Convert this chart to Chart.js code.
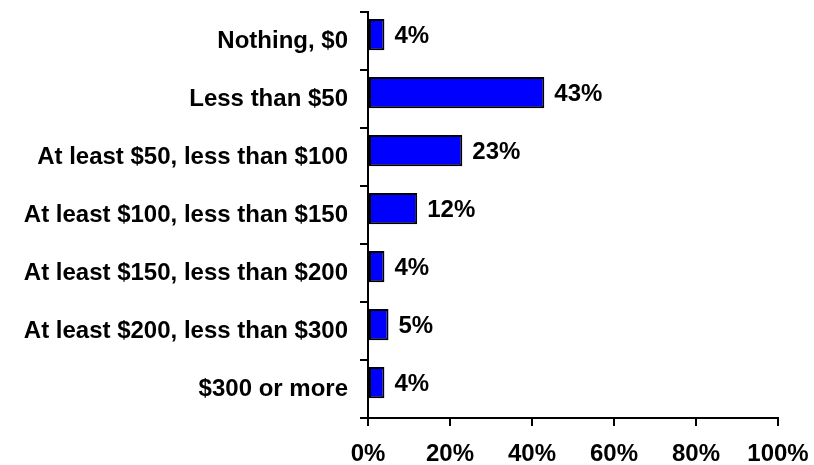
<!DOCTYPE html>
<html>
<head>
<meta charset="utf-8">
<script src="https://cdn.jsdelivr.net/npm/chart.js@4/dist/chart.umd.min.js"></script>
<style>
html,body{margin:0;padding:0;background:#fff;}
#wrap{width:814px;height:465px;position:relative;}
</style>
</head>
<body>
<div id="wrap"><canvas id="c" width="814" height="465"></canvas></div>
<script>
const categories = [
  "Nothing, $0",
  "Less than $50",
  "At least $50, less than $100",
  "At least $100, less than $150",
  "At least $150, less than $200",
  "At least $200, less than $300",
  "$300 or more"
];
const values = [4, 43, 23, 12, 4, 5, 4];
const xTicks = [0, 20, 40, 60, 80, 100];

const FONT = "Liberation Sans, Arial, Helvetica, sans-serif";
const FSIZE = 24;

// shift bars slightly upward within their category band (as in the original)
const barShift = {
  id: 'barShift',
  afterDatasetsUpdate(chart) {
    const meta = chart.getDatasetMeta(0);
    const y = chart.scales.y;
    const band = (y.bottom - y.top) / categories.length;
    meta.data.forEach(el => { el.y -= band * 0.11; });
  }
};

const valueLabels = {
  id: 'valueLabels',
  afterDatasetsDraw(chart) {
    const ctx = chart.ctx;
    const meta = chart.getDatasetMeta(0);
    ctx.save();
    ctx.font = "bold " + FSIZE + "px " + FONT;
    ctx.fillStyle = "#000";
    ctx.textAlign = "left";
    ctx.textBaseline = "middle";
    meta.data.forEach((bar, i) => {
      ctx.fillText(values[i] + "%", bar.x + 10, bar.y + 2);
    });
    ctx.restore();
  }
};

new Chart(document.getElementById('c'), {
  type: 'bar',
  data: {
    labels: categories,
    datasets: [{
      data: values,
      backgroundColor: '#0000FF',
      borderColor: '#000000',
      borderWidth: 2,
      borderSkipped: false,
      barPercentage: 0.54,
      categoryPercentage: 1.0
    }]
  },
  options: {
    indexAxis: 'y',
    responsive: false,
    animation: false,
    layout: { padding: { top: 12, right: 36, left: 0, bottom: 0 } },
    plugins: { legend: { display: false }, tooltip: { enabled: false } },
    scales: {
      x: {
        min: 0, max: 100,
        afterBuildTicks(scale) { scale.ticks = xTicks.map(v => ({ value: v })); },
        afterFit(scale) { scale.height = 47; scale.paddingLeft = 0; scale.paddingRight = 0; },
        ticks: {
          callback: v => v + '%',
          color: '#000',
          font: { family: FONT, size: FSIZE, weight: 'bold' },
          padding: 14,
          maxRotation: 0
        },
        grid: { drawOnChartArea: false, tickLength: 8, color: '#000', lineWidth: 2 },
        border: { display: true, color: '#000', width: 2 }
      },
      y: {
        afterFit(scale) { scale.width = 368; scale.paddingTop = 0; scale.paddingBottom = 0; },
        ticks: {
          color: '#000',
          font: { family: FONT, size: FSIZE, weight: 'bold' },
          padding: 12
        },
        grid: { drawOnChartArea: false, tickLength: 8, color: '#000', lineWidth: 2, offset: true },
        border: { display: true, color: '#000', width: 2 }
      }
    }
  },
  plugins: [barShift, valueLabels]
});
</script>
</body>
</html>
